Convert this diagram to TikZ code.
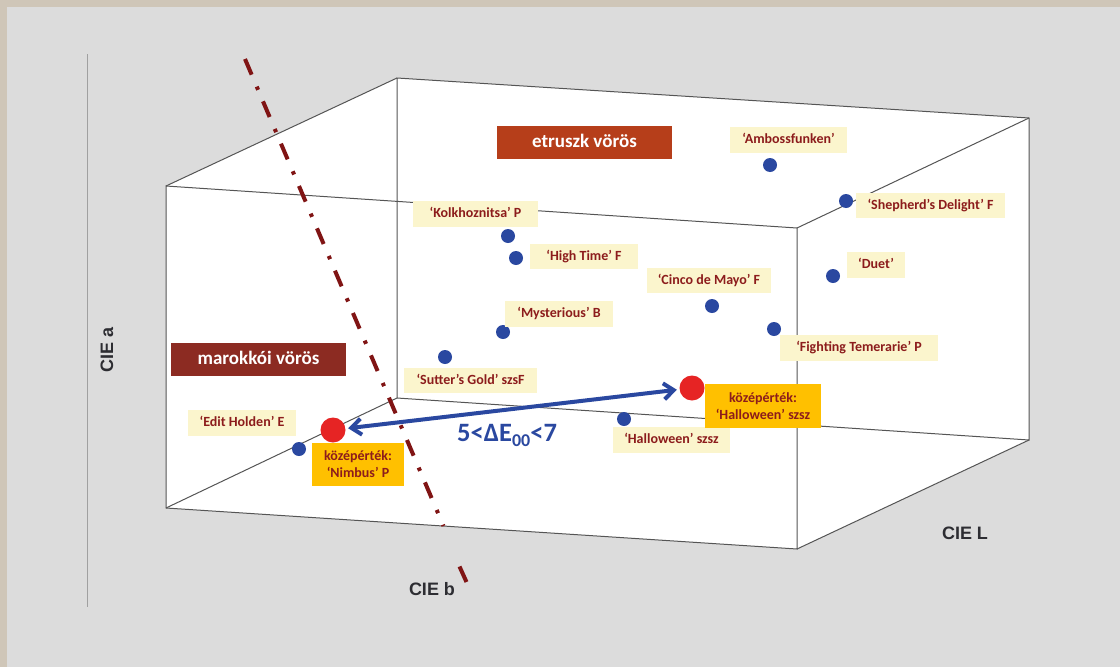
\documentclass[tikz,border=0pt]{standalone}
\usepackage{fontspec}
\setmainfont{Carlito}
\newfontfamily\axisfont{Liberation Sans}
\usetikzlibrary{arrows.meta}
\definecolor{beigeframe}{RGB}{207,198,184}
\definecolor{bggray}{RGB}{220,220,220}
\definecolor{cream}{RGB}{251,245,205}
\definecolor{dred}{RGB}{140,28,28}
\definecolor{rust}{RGB}{182,62,26}
\definecolor{maroon}{RGB}{140,43,34}
\definecolor{gold}{RGB}{255,192,0}
\definecolor{dotblue}{RGB}{42,72,160}
\definecolor{dotred}{RGB}{230,36,36}
\definecolor{dashred}{RGB}{128,20,20}
\definecolor{edgegray}{RGB}{85,85,85}
\definecolor{axisgray}{RGB}{160,160,160}
\definecolor{axistext}{RGB}{45,45,50}
\tikzset{
  lbl/.style={fill=cream, text=dred, font=\bfseries\fontsize{14}{16}\selectfont,
    inner sep=0pt, text height=10.5pt, text depth=3pt, minimum height=26pt},
  meanlbl/.style={fill=gold, text=dred, font=\bfseries\fontsize{14}{17}\selectfont,
    inner sep=0pt, align=center},
  groupbox/.style={text=white, font=\bfseries\fontsize{19}{22}\selectfont,
    inner sep=0pt, text height=13pt, text depth=4pt, minimum height=33pt, minimum width=175pt},
  bdot/.style={circle, fill=dotblue, inner sep=0pt, minimum size=14pt},
  rdot/.style={circle, fill=dotred, inner sep=0pt, minimum size=25pt},
  cubeedge/.style={draw=edgegray, line width=1pt},
  axislbl/.style={text=axistext, font=\axisfont\bfseries\fontsize{18}{20}\selectfont, inner sep=0pt},
  dashdot/.style={draw=dashred, line width=4pt, dash pattern=on 17pt off 13pt on 3.5pt off 12.5pt},
  diffarrow/.style={draw=dotblue, line width=4pt, {Straight Barb[length=10pt,width=16pt]}-{Straight Barb[length=10pt,width=16pt]},
    shorten <=2.5pt, shorten >=2.5pt}
}
\begin{document}
\begin{tikzpicture}[x=1pt,y=-1pt]
\useasboundingbox (0,0) rectangle (1120,667);
\fill[beigeframe] (0,0) rectangle (1120,667);
\fill[bggray] (7,7) rectangle (1120,667);

% vertical axis line
\coordinate (va1) at (87,54);
\coordinate (va2) at (87,607);
\draw[axisgray, line width=1pt] (va1) -- (va2);

% cube corners
\coordinate (ftl) at (166,186);
\coordinate (ftr) at (797,228);
\coordinate (fbr) at (797,549);
\coordinate (fbl) at (166,508);
\coordinate (btl) at (397,78);
\coordinate (btr) at (1029,118);
\coordinate (bbr) at (1029,440);
\coordinate (bbl) at (397,398);

\fill[white] (ftl) -- (btl) -- (btr) -- (bbr) -- (fbr) -- (fbl) -- cycle;
\draw[cubeedge] (ftl) -- (ftr) -- (fbr) -- (fbl) -- cycle;
\draw[cubeedge] (btl) -- (btr) -- (bbr) -- (bbl) -- cycle;
\draw[cubeedge] (ftl) -- (btl);
\draw[cubeedge] (ftr) -- (btr);
\draw[cubeedge] (fbr) -- (bbr);
\draw[cubeedge] (fbl) -- (bbl);

% CIE b dash-dot axis
\coordinate (db1) at (245,59);
\coordinate (db2) at (443.5,526);
\coordinate (db3) at (459.5,566.5);
\coordinate (db4) at (466.5,582);
\draw[dashdot] (db1) -- (db2);
\draw[draw=dashred, line width=4pt] (db3) -- (db4);

% group boxes
\node[groupbox, fill=rust] (etr) at (584.5,142.5) {etruszk vörös};
\node[groupbox, fill=maroon] (mar) at (258.5,359.5) {marokkói vörös};

% blue dots
\node[bdot] (d-amb) at (770,165) {};
\node[bdot] (d-she) at (846,201) {};
\node[bdot] (d-kol) at (508,236) {};
\node[bdot] (d-hig) at (516,258) {};
\node[bdot] (d-due) at (833,276) {};
\node[bdot] (d-cin) at (712,306) {};
\node[bdot] (d-fig) at (774,329) {};
\node[bdot] (d-mys) at (503,332) {};
\node[bdot] (d-sut) at (445,357) {};
\node[bdot] (d-edi) at (299,449) {};
\node[bdot] (d-hal) at (624,419) {};

% red mean dots
\node[rdot] (r-nim) at (333,430) {};
\node[rdot] (r-hal) at (692,388) {};

% labels
\node[lbl, minimum width=117pt] (l-amb) at (788.5,140) {‘Ambossfunken’};
\node[lbl, minimum width=149pt, minimum height=25pt] (l-she) at (930.5,205.5) {‘Shepherd’s Delight’ F};
\node[lbl, minimum width=125pt] (l-kol) at (475.5,214) {‘Kolkhoznitsa’ P};
\node[lbl, minimum width=108pt, minimum height=25pt] (l-hig) at (584,256.5) {‘High Time’ F};
\node[lbl, minimum width=58pt] (l-due) at (876,265) {‘Duet’};
\node[lbl, minimum width=124pt, minimum height=25pt] (l-cin) at (709,280.5) {‘Cinco de Mayo’ F};
\node[lbl, minimum width=158pt] (l-fig) at (859,347.5) {‘Fighting Temerarie’ P};
\node[lbl, minimum width=108pt] (l-mys) at (559,314) {‘Mysterious’ B};
\node[lbl, minimum width=133pt, minimum height=25pt] (l-sut) at (470.5,380.5) {‘Sutter’s Gold’ szsF};
\node[lbl, minimum width=108pt] (l-edi) at (242,423) {‘Edit Holden’ E};
\node[lbl, minimum width=117pt] (l-hal) at (671.5,440) {‘Halloween’ szsz};

\node[meanlbl, minimum width=92pt, minimum height=43pt] (m-nim) at (358,464.5) {középérték:\\‘Nimbus’ P};
\node[meanlbl, minimum width=116pt, minimum height=44pt] (m-hal) at (763,406) {középérték:\\‘Halloween’ szsz};

% difference arrow
\draw[diffarrow] (r-nim) -- (r-hal);
\node[text=dotblue, font=\bfseries\fontsize{26.5}{28}\selectfont, inner sep=0pt, anchor=base west] (de) at (457,441)
  {5<ΔE\raisebox{-5pt}{\fontsize{18}{18}\selectfont 00}<7};

% axis labels
\node[axislbl, rotate=90] (ax-a) at (107,350) {CIE a};
\node[axislbl] (ax-b) at (432,589) {CIE b};
\node[axislbl] (ax-l) at (965,533) {CIE L};
\end{tikzpicture}
\end{document}
